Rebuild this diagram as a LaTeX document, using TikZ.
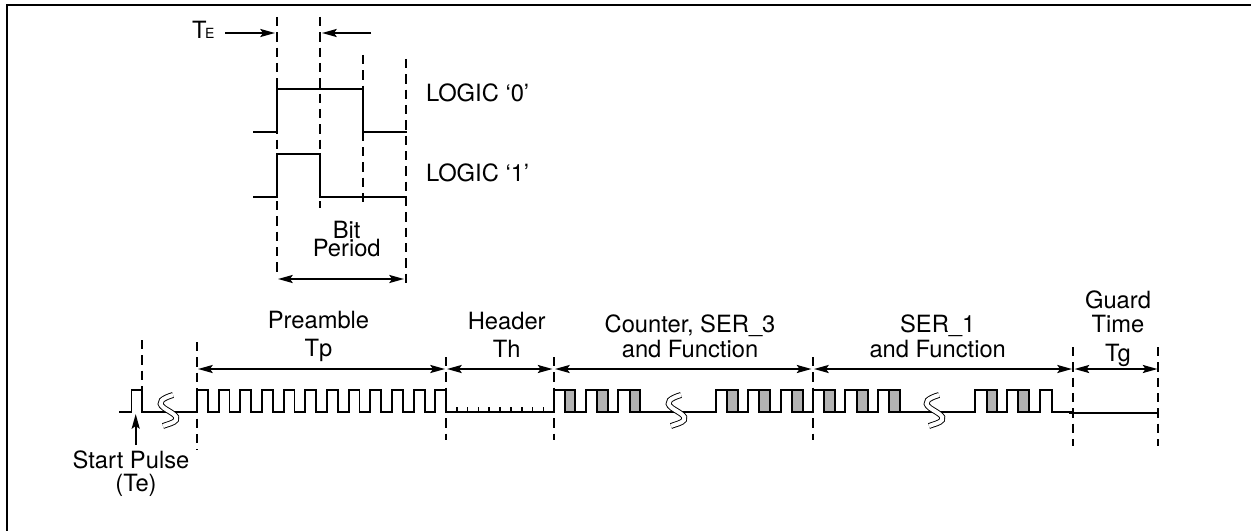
\documentclass[tikz,border=0pt]{standalone}
\usepackage{fontspec}
\setmainfont{TeX Gyre Heros}
\usetikzlibrary{arrows.meta}
\tikzset{
  sig/.style={line width=1.45pt,line join=miter,line cap=rect},
  guide/.style={line width=1.45pt,dash pattern=on 7pt off 4.5pt},
  dim/.style={line width=1.45pt,{Stealth[length=11pt,width=6pt,inset=2pt]}-{Stealth[length=11pt,width=6pt,inset=2pt]}},
  ptr/.style={line width=1.45pt,-{Stealth[length=11pt,width=6pt,inset=2pt]}},
  graybit/.style={fill=black!30,draw=black,line width=1.45pt},
  lbl/.style={inner sep=0pt,outer sep=0pt,anchor=base,align=center,font=\fontsize{17.8pt}{21pt}\selectfont},
  squig/.pic={\draw[line width=0.7pt,double=white,double distance=3pt]
     (6,-15) .. controls (-4,-12) and (-11,-8) .. (-3,-2)
     .. controls (3,2) and (12,6) .. (9,10) .. controls (7,13) and (1,14) .. (-4,16);}
}
\begin{document}
\begin{tikzpicture}[x=0.75pt,y=-0.75pt]
\useasboundingbox (0,0) rectangle (1251,531);
% page frame
\draw[line width=1.5pt] (7,531) -- (7,5) -- (1251,5);

% guide lines
\draw[guide] (277,17) -- (277,274);
\draw[guide] (320,17) -- (320,208);
\draw[guide] (362.7,55) -- (362.7,208);
\draw[guide] (406,59) -- (406,288);
\draw[guide] (142,340) -- (142,392);
\draw[guide] (197,342) -- (197,450);
\draw[guide] (446,357) -- (446,440);
\draw[guide] (553.7,357) -- (553.7,440);
\draw[guide] (812.7,357) -- (812.7,440);
\draw[guide] (1073.3,347) -- (1073.3,446);
\draw[guide] (1158,347) -- (1158,446);

% logic waveforms
\draw[sig] (254,131.7) -- (277,131.7) -- (277,89) -- (362.7,89) -- (362.7,131.7) -- (406,131.7);
\draw[sig] (254,196.7) -- (277,196.7) -- (277,154) -- (320,154) -- (320,196.7) -- (406,196.7);

% gray bit cells
\foreach \a/\b in {565/575,596.7/607.7,630/640,727.3/737.7,759.3/770,791.7/802.7,
                   824/835,856.7/867.7,889/900,986.7/996.7,1018.3/1029.3}
  \draw[graybit] (\a,390) rectangle (\b,411.7);

% main waveform
\draw[sig] (120,411.7) -- (131.5,411.7) -- (131.5,390) -- (142,390) -- (142,411.7) -- (197,411.7)
  foreach \i in {0,...,11} { -- (197+\i*21.67,390) -- (207.83+\i*21.67,390) -- (207.83+\i*21.67,411.7) -- (218.67+\i*21.67,411.7) }
  ;
\draw[sig] (446,390) -- (446,411.7) -- (553.7,411.7) -- (553.7,390) -- (575,390) -- (575,411.7)
  -- (585.7,411.7) -- (585.7,390) -- (607.7,390) -- (607.7,411.7)
  -- (618.3,411.7) -- (618.3,390) -- (640,390) -- (640,411.7)
  -- (716,411.7) -- (716,390) -- (737.7,390) -- (737.7,411.7)
  -- (748.3,411.7) -- (748.3,390) -- (770,390) -- (770,411.7)
  -- (780.7,411.7) -- (780.7,390) -- (802.7,390) -- (802.7,411.7)
  -- (812.7,411.7) -- (812.7,390) -- (835,390) -- (835,411.7)
  -- (845,411.7) -- (845,390) -- (867.7,390) -- (867.7,411.7)
  -- (878.3,411.7) -- (878.3,390) -- (900,390) -- (900,411.7)
  -- (975,411.7) -- (975,390) -- (996.7,390) -- (996.7,411.7)
  -- (1006.7,411.7) -- (1006.7,390) -- (1029.3,390) -- (1029.3,411.7)
  -- (1040,411.7) -- (1040,390) -- (1051.7,390) -- (1051.7,411.7) -- (1073,411.7);
\draw[line width=1.5pt] (1069,412.7) -- (1158,412.7);
% header ticks
\foreach \i in {0,...,8}
  \draw[line width=1.2pt] (456.8+\i*10.83,411.7) -- (456.8+\i*10.83,406.5);

% squiggles
\pic at (167,410) {squig};
\pic at (675,410) {squig};
\pic at (933,410) {squig};

% coordinates for arrows
\coordinate (teA) at (225,33);  \coordinate (teB) at (275,33);
\coordinate (teC) at (371,33);  \coordinate (teD) at (322,33);
\coordinate (bpA) at (278,279); \coordinate (bpB) at (404,279);
\coordinate (d0) at (198,369);  \coordinate (d1) at (445,369);
\coordinate (d2) at (447,369);  \coordinate (d3) at (552.5,369);
\coordinate (d4) at (555,369);  \coordinate (d5) at (811.5,369);
\coordinate (d6) at (814,369);  \coordinate (d7) at (1072,369);
\coordinate (d8) at (1074.5,369); \coordinate (d9) at (1157.5,369);
\coordinate (spA) at (135.7,445); \coordinate (spB) at (135.7,414);

\draw[ptr] (teA) -- (teB);
\draw[ptr] (teC) -- (teD);
\draw[dim] (bpA) -- (bpB);
\draw[dim] (d0) -- (d1);
\draw[dim] (d2) -- (d3);
\draw[dim] (d4) -- (d5);
\draw[dim] (d6) -- (d7);
\draw[dim] (d8) -- (d9);
\draw[ptr] (spA) -- (spB);

% labels
\node[lbl,anchor=base west] (te) at (192,39) {T\kern-1pt{\fontsize{10.5pt}{11pt}\selectfont E}};
\node[lbl,anchor=base west] (l0) at (426,101.7) {LOGIC ‘0’};
\node[lbl,anchor=base west] (l1) at (426,181.7) {LOGIC ‘1’};
\node[lbl,font=\fontsize{17.8pt}{13.5pt}\selectfont] (bit) at (346.7,256) {Bit\\Period};
\node[lbl] (pre) at (318.5,356.5) {Preamble\\Tp};
\node[lbl] (hdr) at (506.7,357) {Header\\Th};
\node[lbl,font=\fontsize{17.8pt}{18.75pt}\selectfont] (cnt) at (690,357) {Counter, SER\_3\\and Function};
\node[lbl,font=\fontsize{17.8pt}{18.75pt}\selectfont] (ser) at (937.7,357) {SER\_1\\and Function};
\node[lbl,font=\fontsize{17.8pt}{18pt}\selectfont] (grd) at (1118,361) {Guard\\Time\\[3.75pt]Tg};
\node[lbl,font=\fontsize{17.8pt}{17pt}\selectfont] (sp) at (131,491) {Start Pulse\\\hspace*{7.5pt}(Te)};
\end{tikzpicture}
\end{document}
